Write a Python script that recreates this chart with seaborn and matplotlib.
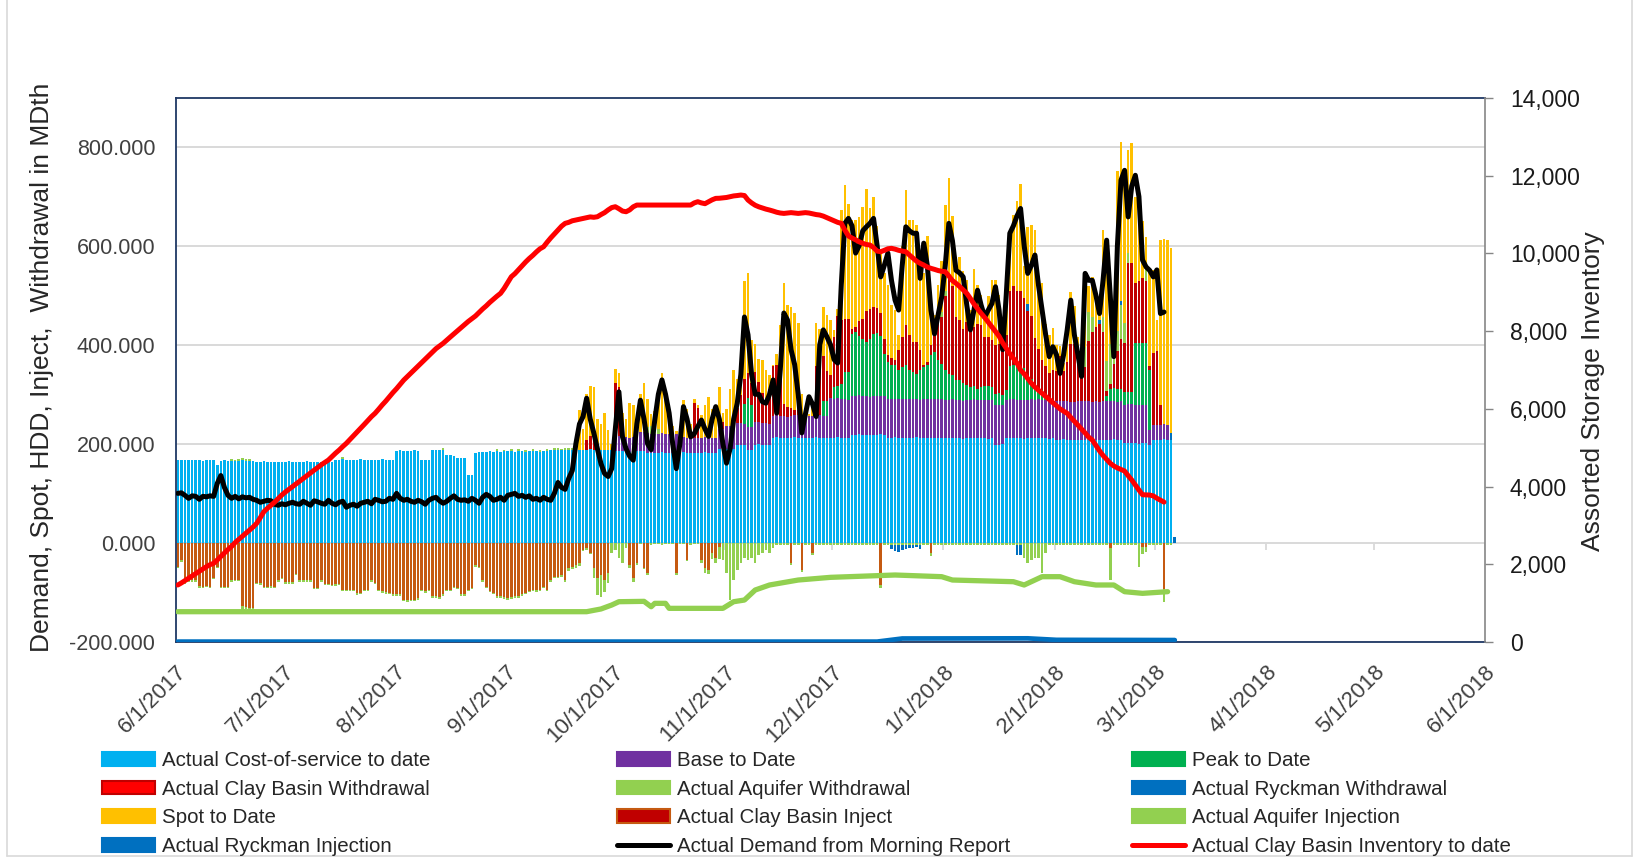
import numpy as np
import pandas as pd
import matplotlib
matplotlib.use("Agg")
import matplotlib.pyplot as plt
import matplotlib.dates as mdates
from matplotlib.patches import Patch
from matplotlib.lines import Line2D
import seaborn as sns

sns.set_style("white")
plt.rcParams["font.family"] = ["Liberation Sans", "DejaVu Sans"]

# one bar per day, day 0 = 6/1/2017
START = "2017-06-01"
N_DAYS = 279

month_labels = ["6/1/2017", "7/1/2017", "8/1/2017", "9/1/2017", "10/1/2017", "11/1/2017",
                "12/1/2017", "1/1/2018", "2/1/2018", "3/1/2018", "4/1/2018", "5/1/2018", "6/1/2018"]

# Actual Cost-of-service to date, days 0-277
cos = [167, 168, 167, 167, 168, 167, 167, 166, 167, 168, 167, 157, 166, 167, 166, 166, 165, 166, 167, 166,
       166, 165, 164, 164, 165, 164, 164, 163, 164, 164,
       164, 165, 164, 164, 163, 164, 165, 164, 164, 164, 163, 164, 165, 164, 168, 168, 169, 168, 167, 168,
       168, 169, 168, 168, 167, 168, 168, 169, 168, 168, 167,
       186, 187, 186, 185, 186, 187, 186, 167, 168, 167, 188, 188, 187, 188, 178, 178, 175, 172, 172, 172,
       137, 137, 182, 183, 184, 184, 185, 184, 186, 184, 185,
       185, 186, 184, 186, 185, 184, 186, 186, 185, 184, 185, 186, 187, 188, 188, 187, 188, 188, 188, 188,
       188, 188, 188, 189, 188, 188, 188, 188, 188, 188,
       185, 186, 185, 185, 184, 185, 186, 185, 185, 182, 182, 181, 182, 183, 182, 182, 181, 182, 182, 183,
       182, 181, 182, 182, 182, 183, 182, 181, 182, 190, 190,
       190, 191, 190, 198, 198, 197, 188, 188, 198, 199, 198, 198, 197, 212, 213, 212, 212, 211, 212, 213,
       212, 212, 212, 211, 212, 213, 212, 212, 212, 212,
       212, 213, 212, 212, 212, 218, 218, 219, 218, 218, 217, 218, 218, 219, 218, 212, 212, 213, 212, 212,
       211, 212, 212, 213, 212, 212, 212, 211, 212, 212, 212,
       211, 211, 212, 211, 211, 210, 211, 211, 212, 211, 211, 211, 210, 211, 198, 198, 199, 211, 211, 212,
       211, 211, 210, 211, 211, 211, 212, 211, 211, 210, 211,
       208, 208, 209, 208, 208, 207, 208, 208, 208, 209, 208, 208, 207, 208, 208, 208, 209, 208, 208, 201,
       201, 202, 201, 200, 201, 201, 198, 208,
       208, 208, 209, 208, 208]

# Base to Date, days 122-277
base_first = 122
base = [28, 29, 28, 28, 27, 28, 28, 38, 38, 39, 38, 38, 37, 38, 38, 38, 39, 38, 38, 30, 30, 31, 30, 30, 29,
        30, 30, 31, 30, 40, 40,
        45, 45, 46, 45, 45, 44, 45, 45, 46, 45, 45, 45, 44, 45, 46, 45, 45, 44, 45, 45, 46, 45, 45, 45,
        44, 45, 46, 45, 45, 80,
        78, 79, 78, 78, 77, 78, 78, 79, 78, 78, 77, 78, 78, 78, 79, 78, 78, 77, 78, 78, 79, 78, 78, 78,
        77, 78, 78, 79, 78, 78, 78,
        78, 78, 79, 78, 78, 77, 78, 78, 79, 78, 78, 77, 78, 78, 80, 80, 80, 78, 79, 78, 78, 77, 78, 78,
        79, 78, 78, 78, 77, 78,
        78, 78, 79, 78, 78, 77, 78, 78, 79, 78, 78, 77, 78, 78, 78, 79, 78, 78, 77, 78, 78, 79, 78, 78,
        78, 78, 77, 30,
        30, 30, 30, 30, 30]

# Peak to Date, days 158-271
peak_first = 158
peak = [40, 60, 45, 0, 0, 0, 0, 0, 0, 0, 0, 0, 0, 0, 0, 0, 0, 0, 0, 0, 0, 0, 30, 30, 0,
        25, 25, 30, 55, 55, 125, 130, 120, 115, 110, 118, 125, 128, 120, 85, 75, 70, 70, 60, 65,
        70, 60, 55, 50, 60, 65, 70, 90, 95, 80, 72,
        60, 52, 48, 40, 40, 35, 30, 25, 25, 22, 25, 28, 28, 25, 22, 25, 20, 20, 68, 70, 70, 68, 66,
        45, 40, 25, 22, 20, 10,
        0, 0, 0, 0, 0, 0, 0, 0, 0, 0, 0, 0, 0, 0, 0, 0, 10, 25, 25, 25, 25, 25, 25, 25,
        125, 125, 125, 125, 120]

# Actual Clay Basin Withdrawal, days 114-274
cbw_first = 114
cbw = [20, 26, 26, 0, 0, 0, 0, 0, 110, 100, 0, 0, 0, 0, 0, 0, 0, 0, 0, 0, 0, 0, 0, 0, 0, 0, 0, 0,
       0, 0, 70, 60, 0, 0, 0, 0, 0, 0, 15, 0, 0, 0,
       30, 55, 50, 50, 45, 100, 80, 60, 40, 70, 100, 100, 80, 24, 20, 15, 10, 10, 0, 0, 0, 0,
       100, 130, 90, 60, 47,
       100, 140, 130, 107, 107, 10, 10, 30, 40, 63, 60, 56, 50, 47, 30, 14, 14, 9, 40, 60, 80, 70,
       60, 65, 40, 5, 5, 20, 63, 80, 94,
       150, 196, 180, 127, 120, 110, 127, 129, 120, 130, 125, 99, 100, 95, 100, 99, 100, 110, 150,
       158, 150, 153, 140, 134, 127, 100, 80, 60, 60, 55, 60,
       60, 90, 60, 80, 117, 117, 100, 70, 70, 120, 140, 150, 157, 140, 10, 10, 50, 78, 100, 100,
       260, 260, 120, 125, 130, 125, 10, 145,
       150, 40]

# Actual Aquifer Withdrawal (day, value)
aqw_days = [15, 16, 17, 18, 19, 20, 46, 74, 89, 91, 93, 95, 97, 99, 101, 103, 105, 106, 107, 108, 109,
            110, 131, 132, 133, 134, 213, 214, 215, 253, 254, 255, 258, 259, 260, 261, 262, 263, 264,
            265, 270]
aqw_vals = [3, 3, 4, 4, 3, 3, 4, 3, 3, 3, 4, 3, 3, 4, 3, 3, 4, 4, 3, 3, 3, 3, 12, 15, 15, 10, 10, 10,
            8, 40, 60, 30, 30, 60, 80, 60, 40, 70, 40, 20, 30]

# Actual Ryckman Withdrawal (day, value)
ryw_days = [237, 257, 263, 277, 278]
ryw_vals = [15, 8, 8, 13, 12]

# Spot to Date, days 111-277
spot_first = 111
spot = [12, 80, 42, 92, 101, 101, 62, 53, 74, 40, 12,
        29, 27, 49, 37, 72, 65, 27, 77, 99, 58, 25, 33, 80, 122, 80, 42, 15, 5, 0, 76, 58, 28, 8, 6,
        48, 66, 83, 58, 50, 85, 17,
        35, 74, 114, 57, 51, 197, 202, 86, 57, 47, 66, 67, 27, 2, 23, 103, 243, 206, 205, 196, 176,
        43, 5, 5, 23, 86, 43, 100, 113, 111,
        15, 15, 222, 270, 233, 220, 215, 209, 227, 246, 204, 222, 166, 121, 133, 141, 106, 101, 30,
        185, 272, 231, 246, 235, 181, 185, 255, 80, 12, 70, 104,
        173, 192, 141, 122, 129, 116, 84, 27, 117, 79, 61, 54, 83, 121, 130, 98, 22, 101, 124, 143,
        181, 216, 65, 155, 185, 217, 126, 155, 84, 76, 84,
        54, 20, 16, 54, 104, 77, 30, 34, 141, 51, 81, 47, 19, 175, 245, 82, 49, 323, 321, 302, 209,
        242, 175, 183, 116, 59, 189, 167,
        62, 334, 374, 374, 374]

# Actual Clay Basin Inject, days 0-121, then scattered days
cbi_summer = [-48, -35, -78, -76, -75, -75, -86, -88, -86, -88, -70, -48, -88, -88, -88, -75, -74, -74,
              -128, -130, -132, -132, -80, -80, -88, -88, -87, -88, -75, -70,
              -79, -79, -79, -62, -75, -75, -75, -75, -90, -90, -75, -82, -82, -84, -82, -82, -95, -95,
              -95, -95, -101, -101, -95, -95, -75, -80, -95, -97, -100, -101, -104,
              -104, -104, -115, -115, -115, -115, -112, -95, -98, -95, -108, -108, -110, -104, -95, -95,
              -88, -90, -104, -104, -95, -90, -45, -48, -75, -88, -97, -101, -108, -108, -110,
              -112, -110, -108, -108, -104, -101, -97, -95, -95, -95, -88, -95, -75, -68, -68, -65, -74,
              -51, -48, -45, -41, -14, -10, -20, -50, -70, -65, -75, -60, 0]
cbi_late_days = [126, 127, 128, 130, 131, 139, 142, 146, 147, 148, 149, 150, 151, 171, 174, 177, 196,
                 210, 260, 269, 270, 275]
cbi_late_vals = [-45, -70, -40, -50, -60, -61, -34, -35, -50, -55, -20, -30, -8, -41, -54, -21, -85,
                 -21, -10, -8, -8, -93]

# Actual Aquifer Injection, days 0-277
aqi = [-3, -3, -4, -3, -3, -3, -4, -3, -3, -3, -3, -3, -4, -3, -3, -3, -3, -3, -15, -4,
       -3, -3, -3, -4, -3, -3, -3, -3, -3, -3, -3, -4, -3, -3, -3, -3, -3, -4, -3, -3,
       -3, -3, -3, -3, -4, -3, -3, -3, -3, -3, -4, -3, -3, -3, -3, -3, -3, -4, -3, -3,
       -3, -3, -3, -3, -4, -3, -3, -3, -3, -3, -3, -3, -4, -3, -3, -3, -3, -3, -3, -4,
       -3, -3, -3, -3, -3, -3, -4, -3, -3, -3, -3, -3, -3, -4, -3, -3, -3, -3, -3, -3,
       -4, -3, -3, -3, -3, -3, -3, -4, -5, -5, -5, -6, -5, -2, -5, -3, -20, -35, -45, -25,
       -20, -20, -15, -30, -40, -10, -5, -8, -5, -3, -3, -5, -4, -3, -3, -4, -3, -3, -3, -4,
       -3, -3, -3, -4, -3, -3, -5, -10, -8, -12, -10, -25, -35, -60, -115, -75, -54, -40, -30, -35,
       -30, -41, -25, -20, -14, -20, -10, -5, -5, -4, -5, -4, -4, -5, -4, -5, -4, -4, -5, -4,
       -4, -5, -4, -4, -5, -4, -4, -5, -4, -4, -5, -4, -4, -5, -4, -4, -5, -4, -4, -4,
       -4, -4, -5, -4, -4, -4, -4, -5, -4, -4, -5, -4, -4, -4, -5, -4, -4, -4, -4, -5,
       -4, -4, -4, -5, -4, -4, -4, -4, -5, -4, -4, -4, -5, -4, -4, -4, -30, -40, -35, -30,
       -30, -61, -20, -4, -4, -5, -4, -4, -4, -5, -4, -4, -4, -5, -4, -4, -4, -4, -5, -4,
       -65, -4, -4, -4, -5, -4, -4, -4, -48, -15, -10, -5, -4, -4, -5, -27, -4, -4]

# Actual Ryckman Injection (day, value)
ryi_days = [199, 200, 201, 202, 203, 204, 205, 206, 207, 234, 235]
ryi_vals = [-8, -12, -14, -10, -8, -6, -6, -5, -8, -20, -20]

# Actual Demand from Morning Report, days 0-275
demand = [100, 101, 96, 90, 95, 94, 88, 94, 93, 95, 94, 120, 136, 112, 96, 90, 94, 89, 93, 91,
          92, 88, 86, 82, 84, 86, 85, 78, 76, 79, 77, 80, 82, 79, 78, 84, 80, 76, 85, 83,
          80, 78, 86, 80, 77, 82, 84, 72, 76, 78, 74, 80, 82, 84, 79, 88, 86, 83, 84, 90,
          88, 100, 90, 86, 88, 84, 82, 86, 83, 78, 86, 90, 92, 85, 80, 84, 90, 95, 88, 86,
          87, 84, 90, 86, 80, 92, 98, 94, 86, 88, 92, 86, 96, 98, 100, 94, 96, 92, 95, 88,
          90, 86, 92, 88, 86, 100, 122, 112, 108, 130, 146, 200, 240, 255, 292, 250, 222, 190, 160, 140,
          134, 150, 230, 305, 214, 190, 175, 167, 240, 288, 250, 200, 188, 248, 300, 329, 300, 262, 200, 150,
          200, 275, 250, 214, 220, 235, 248, 230, 215, 250, 275, 250, 200, 161, 190, 250, 282, 340, 456, 420,
          340, 300, 300, 285, 282, 300, 329, 262, 350, 464, 450, 390, 360, 300, 222, 260, 295, 280, 255, 400,
          430, 416, 400, 370, 363, 520, 645, 655, 640, 585, 600, 630, 638, 645, 655, 600, 537, 560, 585, 530,
          490, 470, 560, 638, 630, 625, 625, 534, 605, 560, 470, 422, 460, 496, 560, 645, 610, 550, 545, 537,
          480, 430, 470, 510, 480, 456, 470, 483, 517, 470, 390, 500, 625, 640, 660, 675, 600, 544, 560, 581,
          520, 470, 420, 376, 396, 380, 342, 380, 430, 490, 420, 380, 336, 544, 530, 530, 500, 463, 530, 611,
          500, 376, 600, 732, 752, 658, 720, 742, 699, 571, 557, 550, 537, 551, 463, 466]

# Actual Clay Basin Inventory to date (right axis), days 0-275
cb_inv = [1467, 1520, 1580, 1640, 1700, 1760, 1820, 1880, 1940, 1990, 2025, 2110, 2200, 2290, 2380,
          2460, 2560, 2640, 2720, 2800, 2880, 2960, 3054, 3200, 3353, 3440, 3520, 3600, 3690, 3783,
          3860, 3930, 4000, 4070, 4140, 4210, 4280, 4350, 4420, 4490, 4560, 4620, 4683, 4770, 4860,
          4940, 5030, 5113, 5210, 5310, 5400, 5500, 5600, 5700, 5800, 5885, 5990, 6100, 6200, 6310,
          6420, 6520, 6630, 6740, 6830, 6920, 7010, 7100, 7190, 7280, 7370, 7460, 7550, 7620, 7687,
          7770, 7850, 7930, 8010, 8090, 8170, 8250, 8320, 8390, 8480, 8570, 8650, 8740, 8820, 8900,
          8973, 9100, 9250, 9400, 9480, 9580, 9680, 9780, 9870, 9950, 10040, 10120, 10172, 10290,
          10400, 10500, 10600, 10700, 10774, 10800, 10840, 10860, 10880, 10900, 10920, 10940, 10930,
          10944, 11000, 11050, 11120, 11180, 11202, 11150, 11090, 11073, 11120, 11200, 11245, 11245,
          11245, 11245, 11245, 11245, 11245, 11245, 11245, 11245, 11245, 11245, 11245, 11245, 11245,
          11245, 11300, 11331, 11300, 11280, 11330, 11380, 11417, 11420, 11430, 11440, 11460, 11480,
          11490, 11503, 11490, 11374, 11300, 11240, 11200, 11170, 11140, 11117, 11090, 11060, 11040,
          11030, 11040, 11050, 11040, 11030, 11040, 11050, 11040, 11020, 11000, 10988, 10960, 10920,
          10880, 10840, 10800, 10774, 10600, 10450, 10396, 10350, 10300, 10260, 10230, 10216, 10150,
          10060, 10044, 10080, 10120, 10131, 10110, 10080, 10060, 10044, 9960, 9880, 9800, 9745, 9700,
          9650, 9616, 9590, 9560, 9540, 9530, 9420, 9300, 9230, 9150, 9060, 8973, 8840, 8700, 8580,
          8458, 8350, 8230, 8114, 7990, 7870, 7700, 7560, 7420, 7300, 7180, 7000, 6900, 6780, 6660,
          6560, 6480, 6400, 6320, 6240, 6160, 6080, 6000, 5940, 5885, 5780, 5680, 5580, 5480, 5380,
          5270, 5198, 5060, 4920, 4800, 4700, 4600, 4530, 4480, 4440, 4400, 4280, 4169, 4040, 3911,
          3790, 3785, 3782, 3760, 3700, 3650, 3600]

# aquifer and Ryckman inventory lines (right axis), read at their corners
aq_inv_days = [0, 114, 118, 121, 123, 130, 132, 133, 136, 137, 152, 155, 158, 161, 165, 173, 182,
               200, 213, 216, 233, 236, 241, 246, 250, 256, 261, 264, 269, 276]
aq_inv_vals = [780, 780, 850, 952, 1037, 1046, 908, 995, 995, 866, 866, 1037, 1080, 1338, 1467,
               1595, 1664, 1724, 1681, 1595, 1552, 1467, 1681, 1681, 1552, 1467, 1467, 1295, 1252, 1295]
ry_inv_days = [0, 195, 202, 237, 245, 278]
ry_inv_vals = [10, 10, 90, 94, 55, 50]


def place(vals, first=0):
    out = np.zeros(N_DAYS)
    out[first:first + len(vals)] = vals
    return out


def place_at(days, vals):
    out = np.zeros(N_DAYS)
    out[np.array(days)] = vals
    return out


x0 = mdates.date2num(pd.Timestamp(START))
xs = x0 + np.arange(N_DAYS) + 0.5
bar_w = 0.72

C_COS, C_BASE, C_PEAK = "#00B0F0", "#7030A0", "#00B050"
C_CBW, C_AQ, C_RY, C_SPOT, C_CBI = "#C00000", "#92D050", "#0070C0", "#FFC000", "#C55A11"

pos_layers = [(place(cos), C_COS), (place(base, base_first), C_BASE), (place(peak, peak_first), C_PEAK),
              (place(cbw, cbw_first), C_CBW), (place_at(aqw_days, aqw_vals), C_AQ),
              (place_at(ryw_days, ryw_vals), C_RY), (place(spot, spot_first), C_SPOT)]
neg_layers = [(place(cbi_summer) + place_at(cbi_late_days, cbi_late_vals), C_CBI),
              (place(aqi), C_AQ), (place_at(ryi_days, ryi_vals), C_RY)]

fig = plt.figure(figsize=(16.4, 8.6), dpi=100)
ax = fig.add_axes([176 / 1640, 218 / 860, 1309 / 1640, 544 / 860])

bottom = np.zeros(N_DAYS)
for vals, col in pos_layers:
    ax.bar(xs, vals, width=bar_w, bottom=bottom, color=col, linewidth=0, zorder=2)
    bottom += vals
bottom = np.zeros(N_DAYS)
for vals, col in neg_layers:
    ax.bar(xs, vals, width=bar_w, bottom=bottom, color=col, linewidth=0, zorder=2)
    bottom += vals

sns.lineplot(x=xs[:len(demand)], y=demand, ax=ax, color="black", linewidth=3.6,
             solid_joinstyle="round", solid_capstyle="round", zorder=3)

month_x = mdates.date2num(pd.to_datetime(month_labels, format="%m/%d/%Y"))
ax.vlines(month_x, -14, 0, color="#D9D9D9", linewidth=1.3, zorder=1)

ax.set_xlim(month_x[0], month_x[-1])
ax.set_ylim(-200, 898)
ax.set_yticks([-200, 0, 200, 400, 600, 800])
ax.set_yticklabels([f"{v:.3f}" for v in [-200, 0, 200, 400, 600, 800]])
ax.yaxis.grid(True, color="#D9D9D9", linewidth=1.4)
ax.xaxis.grid(False)
ax.set_axisbelow(True)
ax.tick_params(axis="y", length=0, pad=15, labelsize=15.5, labelcolor="#404040")
ax.set_xticks(month_x)
ax.set_xticklabels(month_labels, rotation=45, ha="right", rotation_mode="anchor")
ax.tick_params(axis="x", length=0, pad=14, labelsize=16, labelcolor="#404040")
for s in ["left", "top", "bottom"]:
    ax.spines[s].set_color("#1F3864")
    ax.spines[s].set_linewidth(1.3)
ax.spines["right"].set_visible(False)

ax2 = ax.twinx()
sns.lineplot(x=x0 + np.array(aq_inv_days) + 0.5, y=aq_inv_vals, ax=ax2, color=C_AQ, linewidth=3.8,
             solid_joinstyle="round", solid_capstyle="round")
sns.lineplot(x=x0 + np.array(ry_inv_days) + 0.5, y=ry_inv_vals, ax=ax2, color=C_RY, linewidth=3.4,
             solid_capstyle="round")
sns.lineplot(x=xs[:len(cb_inv)], y=cb_inv, ax=ax2, color="#FF0000", linewidth=3.6,
             solid_joinstyle="round", solid_capstyle="round")
ax2.set_xlim(month_x[0], month_x[-1])
ax2.set_ylim(0, 14000)
ax2.set_yticks(range(0, 14001, 2000))
ax2.set_yticklabels([f"{v:,}" for v in range(0, 14001, 2000)])
ax2.tick_params(axis="y", length=6, width=1, color="#868686", pad=12, labelsize=16.5, labelcolor="#1a1a1a")
ax2.set_ylabel("")
ax2.set_xlabel("")
ax.set_ylabel("")
for s in ["left", "top", "bottom"]:
    ax2.spines[s].set_visible(False)
ax2.spines["right"].set_color("#868686")
ax2.spines["right"].set_linewidth(1.2)

fig.text(42 / 1640, 1 - 367 / 860, "Demand, Spot, HDD, Inject,  Withdrawal in MDth", rotation=90,
         ha="center", va="center", fontsize=19)
fig.text(1593 / 1640, 1 - 391 / 860, "Assorted Storage Inventory", rotation=90,
         ha="center", va="center", fontsize=19)

# legend: three columns, four rows, in the reference's row order
def box(fc, ec=None):
    return Patch(facecolor=fc, edgecolor=ec or fc, linewidth=1.5)

columns = [
    [(box(C_COS), "Actual Cost-of-service to date"), (box("#FF0000", C_CBW), "Actual Clay Basin Withdrawal"),
     (box(C_SPOT), "Spot to Date"), (box(C_RY), "Actual Ryckman Injection")],
    [(box(C_BASE), "Base to Date"), (box(C_AQ), "Actual Aquifer Withdrawal"),
     (box(C_CBW, C_CBI), "Actual Clay Basin Inject"),
     (Line2D([], [], color="black", linewidth=3.6), "Actual Demand from Morning Report")],
    [(box(C_PEAK), "Peak to Date"), (box(C_RY), "Actual Ryckman Withdrawal"),
     (box(C_AQ), "Actual Aquifer Injection"),
     (Line2D([], [], color="#FF0000", linewidth=3.6), "Actual Clay Basin Inventory to date")],
]
for cx, col in zip([102 / 1640, 617 / 1640, 1132 / 1640], columns):
    fig.legend([h for h, _ in col], [t for _, t in col], loc="upper left", bbox_to_anchor=(cx, 1 - 751 / 860),
               frameon=False, fontsize=14.8, handlelength=2.6, handleheight=0.65, handletextpad=0.3,
               labelspacing=0.47, borderpad=0, borderaxespad=0, labelcolor="#262626")

# light chart-area frame
for xa, ya in [([7, 7], [0, 856]), ([1632, 1632], [0, 856]), ([7, 1632], [856, 856])]:
    fig.add_artist(Line2D(np.array(xa) / 1640, 1 - np.array(ya) / 860, color="#D9D9D9", linewidth=1.2))

fig.savefig("out.png", dpi=100)
